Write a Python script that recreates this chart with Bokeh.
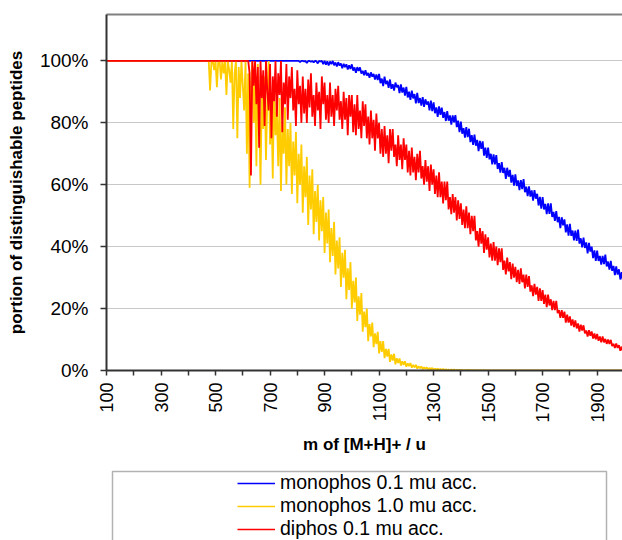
import math
from bokeh.plotting import figure
from bokeh.layouts import column
from bokeh.models import (Range1d, FixedTicker, PrintfTickFormatter, LinearAxis,
                          Legend, LegendItem, BoxAnnotation)
from bokeh.embed import file_html
from bokeh.resources import INLINE

# ---------------- data (values in %) ----------------
series_names = ["monophos 0.1 mu acc.", "monophos 1.0 mu acc.", "diphos 0.1 mu acc."]

mass_mono01 = [100] + list(range(800, 2001, 5))
mono01 = [100.0,
    100, 100, 99.6, 100, 100, 99.8, 100, 99.3, 100, 100, 99.7, 100, 99.5, 100, 99.9, 99.2, 100, 99.8, 100, 99.0,
    100, 98.8, 99.9, 98.5, 99.8, 99.0, 100, 98.6, 99.5, 98.2, 99.6, 98.5, 99.2, 97.6, 99.1, 98.0, 98.9, 97.2, 98.6, 97.4,
    98.9, 96.9, 97.9, 96.2, 98.0, 96.8, 97.9, 95.9, 96.8, 95.4, 97.0, 95.3, 96.1, 94.6, 96.3, 94.9, 95.8, 94.0, 95.6, 93.8,
    95.8, 92.8, 94.3, 91.9, 94.9, 92.5, 93.6, 91.3, 94.0, 91.0, 92.5, 90.4, 93.0, 91.5, 92.2, 89.6, 92.4, 89.8, 91.4, 88.8,
    91.6, 88.2, 90.1, 87.4, 90.4, 87.9, 89.3, 86.3, 89.7, 86.4, 88.0, 85.6, 88.3, 85.2, 87.6, 85.9, 86.9, 84.0, 87.2, 83.8,
    86.6, 83.1, 85.0, 81.9, 85.3, 82.6, 84.9, 81.6, 83.5, 80.6, 83.8, 80.7, 82.4, 79.4, 82.4, 80.2, 82.5, 78.6, 80.7, 77.0,
    80.4, 76.5, 78.3, 75.2, 78.6, 75.4, 78.1, 73.8, 76.0, 72.9, 76.2, 72.6, 74.5, 70.9, 74.2, 71.6, 74.0, 69.4, 72.0, 68.7,
    72.0, 68.2, 70.0, 66.6, 69.8, 66.6, 69.6, 65.1, 67.0, 63.9, 67.3, 63.8, 65.5, 61.9, 65.5, 62.6, 64.8, 60.7, 63.2, 59.7,
    63.4, 59.6, 61.4, 58.3, 61.5, 58.6, 61.8, 57.6, 59.4, 56.3, 59.5, 56.2, 58.2, 54.9, 58.3, 55.5, 57.1, 53.3, 56.1, 52.3,
    56.0, 52.0, 53.8, 50.5, 54.0, 50.6, 54.0, 49.6, 51.2, 48.3, 51.5, 47.9, 49.6, 46.0, 49.5, 46.9, 48.8, 44.6, 47.2, 43.6,
    47.4, 43.5, 45.2, 42.0, 45.2, 41.9, 45.5, 41.0, 42.7, 39.8, 42.9, 39.6, 41.4, 37.8, 41.2, 38.4, 40.0, 36.3, 38.8, 35.4,
    38.7, 35.4, 37.0, 34.2, 37.0, 34.4, 37.4, 33.6, 35.2, 32.6, 35.4, 32.2, 33.8, 30.8, 33.6, 31.0, 32.7, 29.4, 31.8, 28.9,
    30.8]

mass_mono10 = [100] + list(range(475, 1501, 5)) + [2000]
mono10 = [100.0,
    100, 90.5, 100, 100, 97, 100, 91.5, 100, 100, 94, 100, 96, 100, 89, 100, 97, 93, 100, 78, 96,
    100, 75, 98, 88, 100, 92, 84, 100, 70, 96, 59, 92, 100, 80, 94, 66, 99, 85, 60, 91,
    78, 95, 68, 88, 100, 73, 86, 62, 93, 76, 84, 66, 88, 58, 80, 70, 85, 60, 78, 66,
    80, 57, 74, 63, 77, 54, 70, 60, 73, 51, 66, 56, 69, 47, 63, 52, 65, 44, 58, 48,
    60, 42, 55, 45, 56, 38, 51, 41, 52, 35, 46, 37, 48, 31, 42, 33, 43, 27, 38, 30,
    39, 23, 33, 26, 35, 20, 29, 22, 30, 16, 24, 18, 25, 12.5, 19, 14, 20, 9.5, 15, 11,
    15.5, 7.5, 12, 8.5, 12.5, 5.5, 9.5, 6, 9.5, 4, 7, 4.5, 7, 2.8, 5.2, 3.2, 5.4, 2.0, 4.0, 2.4,
    3.9, 1.6, 3.0, 1.8, 3.0, 1.2, 2.3, 1.4, 2.4, 0.9, 1.8, 1.0, 1.8, 0.6, 1.4, 0.7, 1.3, 0.4, 1.0, 0.5,
    1.0, 0.3, 0.8, 0.4, 0.8, 0.2, 0.6, 0.3, 0.6, 0.1, 0.5, 0.2, 0.5, 0.1, 0.4, 0.1, 0.3, 0.0, 0.3, 0.1,
    0.3, 0.0, 0.2, 0.1, 0.2, 0.0, 0.2, 0.0, 0.1, 0.0, 0.2, 0.0, 0.1, 0.0, 0.1, 0.0, 0.1, 0.0, 0.0, 0.1,
    0.0, 0.0, 0.1, 0.0, 0.0, 0.0,
    0.0]

mass_di01 = [100] + list(range(620, 2001, 5))
di01 = [100.0,
    100, 96, 63, 100, 92, 100, 86, 98, 72, 100, 88, 97, 79, 100, 90, 84, 99, 75, 95, 87,
    100, 82, 96, 89, 100, 77, 93, 86, 99, 81, 95, 88, 98, 84, 91, 79, 97, 86, 92, 80,
    95, 83, 91, 80, 94, 85, 96, 82, 89, 79, 93, 84, 90, 78, 95, 86, 93, 81, 89, 80,
    93, 82, 89, 79, 91, 84, 92, 81, 87, 78, 90, 81, 88, 76, 89, 82, 89, 77, 86, 76,
    89, 78, 84, 75, 87, 79, 86, 75, 82, 73, 84, 75, 81, 71, 83, 75, 80, 70, 78, 69,
    79, 70, 76, 67, 78, 71, 78, 69, 73, 66, 76, 68, 73, 65, 75, 68, 73, 64, 71, 63,
    72, 64, 69, 61.5, 70, 64, 71, 62, 66, 60, 68, 61, 66, 58, 66.5, 60, 65, 57, 63, 56,
    64, 56, 61, 54, 61, 55, 61, 52, 56, 50.5, 57, 51, 56, 48.5, 55, 49, 54, 47, 52, 46,
    53, 46, 51, 44, 50, 45, 50, 42, 45, 40, 46, 41, 45, 38, 44, 39, 43, 36.5, 41, 35.5,
    41.5, 35.5, 40, 34, 39.5, 35, 39.5, 32.5, 35.5, 31, 36.5, 32, 35, 29.5, 34.5, 30, 33.5, 28.5, 32.5, 28,
    33, 28.5, 31, 26.5, 31, 27, 30.5, 25.5, 27.5, 24, 28, 24.5, 27, 22.5, 26.5, 22.5, 26, 21.5, 24.5, 20.5,
    24.5, 21, 23, 19.5, 22.5, 19.5, 22.5, 18.5, 19.5, 17, 19.5, 17, 19, 15.5, 18, 15.5, 17.5, 14.5, 16.5, 14,
    16.2, 13.6, 15.2, 12.6, 14.8, 12.9, 14.6, 12.0, 12.9, 11.0, 13.0, 11.2, 12.6, 10.3, 12.0, 10.1, 11.8, 9.6, 11.0, 9.1,
    11.0, 9.1, 10.2, 8.6, 10.0, 8.6, 9.9, 7.9, 8.6, 7.3, 8.7, 7.3, 8.2, 6.4, 7.7, 6.2, 7.0]

series_colors = ["#0000ff", "#ffcc00", "#ff0000"]
x_major_ticks = [100, 300, 500, 700, 900, 1100, 1300, 1500, 1700, 1900]
x_minor_ticks = [200, 400, 600, 800, 1000, 1200, 1400, 1600, 1800, 2000]
y_ticks = [0, 20, 40, 60, 80, 100]

assert len(mass_mono01) == len(mono01)
assert len(mass_mono10) == len(mono10)
assert len(mass_di01) == len(di01)

FONT = "Liberation Sans"
AX = "#333333"

p = figure(width=622, height=460, output_backend="svg", toolbar_location=None,
           x_range=Range1d(100, 1993), y_range=Range1d(0, 115),
           min_border_left=106, min_border_right=0, min_border_top=14,
           min_border_bottom=90, outline_line_color=None)

p.xgrid.visible = False
p.ygrid.ticker = FixedTicker(ticks=y_ticks)
p.ygrid.grid_line_color = "#c8c8c8"
p.ygrid.grid_line_width = 1

series = [(mass_mono01, mono01), (mass_mono10, mono10), (mass_di01, di01)]
main_r = []
for (xs, ys), c in zip(series, series_colors):
    main_r.append(p.line(xs, ys, line_color=c, line_width=1.8))

# x axis
xa = p.xaxis[0]
xa.ticker = FixedTicker(ticks=x_major_ticks, minor_ticks=x_minor_ticks)
xa.major_label_orientation = math.pi / 2
xa.major_label_text_font = FONT
xa.major_label_text_font_size = "18px"
xa.major_label_text_color = "#000000"
xa.major_label_standoff = 7
xa.major_tick_in = 0
xa.major_tick_out = 5
xa.minor_tick_in = 0
xa.minor_tick_out = 5
xa.major_tick_line_color = AX
xa.minor_tick_line_color = AX
xa.major_tick_line_width = 1.5
xa.minor_tick_line_width = 1.5
xa.axis_line_color = AX
xa.axis_line_width = 2
xa.axis_label = "m of [M+H]+ / u"
xa.axis_label_text_font = FONT
xa.axis_label_text_font_style = "bold"
xa.axis_label_text_font_size = "17px"
xa.axis_label_text_color = "#000000"
xa.axis_label_standoff = 9

# y axis
ya = p.yaxis[0]
ya.ticker = FixedTicker(ticks=y_ticks)
ya.formatter = PrintfTickFormatter(format="%d%%")
ya.major_label_text_font = FONT
ya.major_label_text_font_size = "19px"
ya.major_label_text_color = "#000000"
ya.major_label_standoff = 12
ya.major_tick_in = 0
ya.major_tick_out = 6
ya.minor_tick_line_color = None
ya.major_tick_line_color = AX
ya.major_tick_line_width = 1.5
ya.axis_line_color = AX
ya.axis_line_width = 2
ya.axis_label = "portion of distinguishable peptides"
ya.axis_label_text_font = FONT
ya.axis_label_text_font_style = "bold"
ya.axis_label_text_font_size = "17px"
ya.axis_label_text_color = "#000000"
ya.axis_label_standoff = 11

# top border line of the plot area
top = LinearAxis(ticker=FixedTicker(ticks=[]), major_tick_line_color=None,
                 minor_tick_line_color=None, axis_line_color="#808080",
                 axis_line_width=2)
p.add_layout(top, "above")

# ---------------- legend strip ----------------
lg = figure(width=622, height=80, output_backend="svg", toolbar_location=None,
            x_range=Range1d(-20, -10), y_range=Range1d(-20, -10),
            x_axis_location=None, y_axis_location=None,
            min_border=0, outline_line_color=None)
lg.grid.visible = False
leg_r = []
for (xs, ys), c in zip(series, series_colors):
    leg_r.append(lg.line(xs, ys, line_color=c, line_width=1.3))

box = BoxAnnotation(left=112, right=606, top=11, bottom=120,
                    left_units="canvas", right_units="canvas",
                    top_units="canvas", bottom_units="canvas",
                    fill_alpha=0, line_color="#000000", line_width=1.5)
lg.add_layout(box)

legend = Legend(items=[LegendItem(label=n, renderers=[r]) for n, r in zip(series_names, leg_r)],
                location=(131, 0), padding=0, margin=0, spacing=0,
                label_height=20, glyph_height=20, glyph_width=38,
                label_standoff=5, border_line_alpha=0,
                background_fill_alpha=0,
                label_text_font=FONT, label_text_font_size="19.5px",
                label_text_color="#000000")
lg.add_layout(legend)

layout = column(p, lg, spacing=0)
open("out.html", "w").write(file_html(layout, INLINE))
